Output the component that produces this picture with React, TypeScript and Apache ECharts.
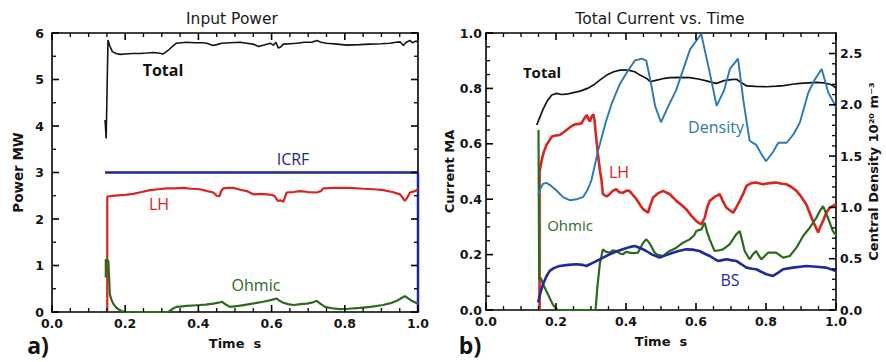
import React, { useEffect, useRef } from "react";
import * as echarts from "echarts";

// ---------- Panel a) Input Power (time s, power MW) ----------
const powerTotal: [number, number][] = [
  [0.145, 4.13], [0.148, 3.73], [0.153, 5.85], [0.158, 5.72], [0.165, 5.6], [0.175, 5.56], [0.186, 5.54],
  [0.2, 5.55], [0.22, 5.56], [0.24, 5.56], [0.26, 5.57], [0.277, 5.58], [0.29, 5.57], [0.304, 5.55],
  [0.318, 5.63], [0.33, 5.72], [0.34, 5.78], [0.368, 5.8], [0.39, 5.79], [0.41, 5.79], [0.423, 5.78],
  [0.44, 5.73], [0.45, 5.75], [0.464, 5.78], [0.486, 5.79], [0.514, 5.8], [0.532, 5.78], [0.55, 5.76],
  [0.564, 5.71], [0.58, 5.74], [0.596, 5.78], [0.605, 5.74], [0.612, 5.8], [0.618, 5.68], [0.625, 5.7],
  [0.632, 5.76], [0.65, 5.77], [0.668, 5.78], [0.69, 5.8], [0.71, 5.8], [0.723, 5.84], [0.735, 5.8],
  [0.75, 5.78], [0.78, 5.76], [0.805, 5.74], [0.84, 5.75], [0.869, 5.76], [0.9, 5.77], [0.923, 5.78],
  [0.94, 5.8], [0.951, 5.81], [0.96, 5.73], [0.968, 5.8], [0.978, 5.84], [0.985, 5.79], [0.992, 5.82],
  [1.0, 5.82],
];
const powerICRF: [number, number][] = [[0.145, 3.0], [1.0, 3.0], [1.0, 0]];
const powerLH: [number, number][] = [
  [0.151, 0], [0.151, 2.48], [0.158, 2.49], [0.18, 2.51], [0.2, 2.52], [0.222, 2.54], [0.245, 2.58],
  [0.268, 2.62], [0.29, 2.64], [0.313, 2.66], [0.335, 2.66], [0.359, 2.67], [0.38, 2.65], [0.404, 2.64],
  [0.425, 2.6], [0.441, 2.57], [0.45, 2.5], [0.458, 2.49], [0.462, 2.6], [0.468, 2.66], [0.48, 2.67],
  [0.495, 2.67], [0.515, 2.63], [0.532, 2.6], [0.55, 2.53], [0.57, 2.54], [0.587, 2.53], [0.6, 2.52],
  [0.609, 2.49], [0.614, 2.42], [0.618, 2.39], [0.625, 2.4], [0.632, 2.37], [0.638, 2.5], [0.641, 2.57],
  [0.66, 2.58], [0.678, 2.6], [0.7, 2.58], [0.723, 2.57], [0.735, 2.6], [0.741, 2.66], [0.77, 2.67],
  [0.814, 2.67], [0.85, 2.65], [0.88, 2.64], [0.905, 2.62], [0.93, 2.58], [0.951, 2.53], [0.958, 2.46],
  [0.964, 2.39], [0.97, 2.45], [0.978, 2.57], [0.992, 2.6], [1.0, 2.64],
];
const powerOhmic: [number, number][] = [
  [0.147, 0.74], [0.147, 1.13], [0.154, 1.1], [0.158, 0.38], [0.163, 0.25], [0.168, 0.17], [0.175, 0.1],
  [0.181, 0.06], [0.19, 0.02], [0.199, 0], [0.318, 0], [0.33, 0.07], [0.34, 0.11], [0.355, 0.12],
  [0.368, 0.13], [0.385, 0.14], [0.404, 0.15], [0.42, 0.16], [0.441, 0.18], [0.455, 0.2], [0.464, 0.22],
  [0.475, 0.16], [0.486, 0.11], [0.51, 0.13], [0.532, 0.16], [0.555, 0.19], [0.577, 0.22], [0.595, 0.25],
  [0.614, 0.29], [0.62, 0.25], [0.632, 0.2], [0.645, 0.17], [0.659, 0.15], [0.68, 0.17], [0.696, 0.18],
  [0.71, 0.2], [0.723, 0.24], [0.735, 0.17], [0.746, 0.11], [0.765, 0.08], [0.787, 0.06], [0.81, 0.07],
  [0.842, 0.09], [0.87, 0.11], [0.905, 0.15], [0.925, 0.19], [0.942, 0.24], [0.955, 0.3], [0.964, 0.34],
  [0.972, 0.3], [0.983, 0.24], [1.0, 0.18],
];

// ---------- Panel b) Total Current vs. Time (current MA, density 1e20 m^-3) ----------
const currentTotal: [number, number][] = [
  [0.145, 0.668], [0.155, 0.7], [0.165, 0.73], [0.175, 0.755], [0.188, 0.776], [0.202, 0.782],
  [0.215, 0.778], [0.23, 0.779], [0.25, 0.785], [0.269, 0.79], [0.29, 0.8], [0.307, 0.812],
  [0.325, 0.83], [0.345, 0.848], [0.365, 0.86], [0.383, 0.866], [0.406, 0.866], [0.425, 0.86],
  [0.44, 0.848], [0.46, 0.835], [0.469, 0.824], [0.488, 0.83], [0.505, 0.835], [0.526, 0.839],
  [0.55, 0.84], [0.583, 0.839], [0.61, 0.833], [0.63, 0.827], [0.645, 0.822], [0.659, 0.818],
  [0.68, 0.828], [0.7, 0.832], [0.716, 0.833], [0.73, 0.82], [0.745, 0.809], [0.77, 0.807],
  [0.802, 0.806], [0.83, 0.808], [0.85, 0.81], [0.875, 0.815], [0.897, 0.818], [0.92, 0.82],
  [0.945, 0.822], [0.965, 0.82], [0.983, 0.815], [0.992, 0.81], [1.0, 0.8],
];
const centralDensity: [number, number][] = [
  [0.149, 1.12], [0.155, 1.18], [0.163, 1.23], [0.172, 1.24], [0.182, 1.22], [0.2, 1.17], [0.22, 1.1],
  [0.239, 1.07], [0.26, 1.08], [0.277, 1.1], [0.29, 1.17], [0.301, 1.26], [0.32, 1.55], [0.343, 1.84],
  [0.36, 2.02], [0.382, 2.2], [0.405, 2.33], [0.425, 2.43], [0.445, 2.45], [0.458, 2.43], [0.472, 2.2],
  [0.483, 1.99], [0.5, 1.83], [0.52, 1.98], [0.543, 2.14], [0.564, 2.35], [0.583, 2.54], [0.615, 2.69],
  [0.637, 2.35], [0.659, 1.99], [0.68, 2.14], [0.697, 2.35], [0.72, 2.45], [0.735, 2.05], [0.753, 1.65],
  [0.772, 1.61], [0.785, 1.53], [0.8, 1.45], [0.82, 1.54], [0.835, 1.63], [0.859, 1.63], [0.88, 1.72],
  [0.897, 1.83], [0.921, 2.12], [0.94, 2.25], [0.959, 2.35], [0.978, 2.12], [1.0, 1.98],
];
const currentLH: [number, number][] = [
  [0.153, 0], [0.153, 0.5], [0.159, 0.54], [0.165, 0.57], [0.173, 0.596], [0.18, 0.61], [0.188, 0.626],
  [0.2, 0.63], [0.211, 0.632], [0.22, 0.64], [0.23, 0.65], [0.24, 0.66], [0.254, 0.67], [0.265, 0.672],
  [0.273, 0.674], [0.28, 0.69], [0.288, 0.704], [0.293, 0.69], [0.297, 0.68], [0.302, 0.7], [0.307, 0.706],
  [0.31, 0.686], [0.314, 0.632], [0.32, 0.56], [0.326, 0.5], [0.33, 0.47], [0.334, 0.418], [0.345, 0.41],
  [0.353, 0.418], [0.362, 0.43], [0.372, 0.436], [0.381, 0.425], [0.391, 0.423], [0.4, 0.43], [0.41, 0.43],
  [0.42, 0.415], [0.43, 0.4], [0.44, 0.38], [0.449, 0.364], [0.463, 0.351], [0.47, 0.38], [0.477, 0.405],
  [0.49, 0.42], [0.506, 0.43], [0.525, 0.418], [0.544, 0.394], [0.558, 0.38], [0.572, 0.364], [0.587, 0.34],
  [0.601, 0.321], [0.615, 0.309], [0.625, 0.333], [0.632, 0.37], [0.639, 0.394], [0.655, 0.41],
  [0.668, 0.418], [0.678, 0.39], [0.687, 0.369], [0.706, 0.351], [0.715, 0.37], [0.725, 0.394],
  [0.735, 0.42], [0.744, 0.448], [0.758, 0.458], [0.772, 0.46], [0.791, 0.454], [0.81, 0.458],
  [0.829, 0.46], [0.845, 0.456], [0.858, 0.454], [0.872, 0.445], [0.887, 0.43], [0.9, 0.41], [0.915, 0.382],
  [0.925, 0.35], [0.934, 0.321], [0.942, 0.3], [0.949, 0.28], [0.955, 0.3], [0.963, 0.321], [0.972, 0.35],
  [0.982, 0.369], [0.99, 0.375], [1.0, 0.382],
];
const currentOhmic: [number, number][] = [
  [0.15, 0.65], [0.152, 0.11], [0.157, 0.115], [0.163, 0.093], [0.17, 0.075], [0.177, 0.057], [0.185, 0.035],
  [0.191, 0.02], [0.2, 0.005], [0.206, 0], [0.313, 0], [0.318, 0.08], [0.325, 0.165], [0.334, 0.219],
  [0.343, 0.21], [0.353, 0.207], [0.362, 0.215], [0.372, 0.213], [0.381, 0.205], [0.391, 0.201], [0.4, 0.21],
  [0.41, 0.207], [0.422, 0.205], [0.434, 0.207], [0.449, 0.243], [0.458, 0.255], [0.465, 0.245],
  [0.472, 0.231], [0.48, 0.21], [0.487, 0.201], [0.506, 0.195], [0.515, 0.205], [0.525, 0.213],
  [0.544, 0.225], [0.563, 0.243], [0.582, 0.255], [0.595, 0.27], [0.601, 0.285], [0.615, 0.291],
  [0.625, 0.315], [0.632, 0.28], [0.639, 0.255], [0.653, 0.213], [0.665, 0.215], [0.677, 0.219],
  [0.696, 0.237], [0.715, 0.273], [0.725, 0.285], [0.732, 0.25], [0.739, 0.213], [0.753, 0.183],
  [0.762, 0.2], [0.772, 0.213], [0.78, 0.195], [0.787, 0.183], [0.806, 0.207], [0.829, 0.207],
  [0.849, 0.189], [0.868, 0.195], [0.887, 0.225], [0.906, 0.267], [0.925, 0.297], [0.944, 0.333],
  [0.955, 0.36], [0.963, 0.375], [0.977, 0.333], [0.991, 0.285], [1.0, 0.27],
];
const currentBS: [number, number][] = [
  [0.149, 0.027], [0.155, 0.06], [0.163, 0.093], [0.172, 0.12], [0.182, 0.141], [0.195, 0.152], [0.21, 0.159],
  [0.235, 0.163], [0.258, 0.165], [0.275, 0.163], [0.287, 0.159], [0.305, 0.17], [0.325, 0.183],
  [0.353, 0.201], [0.37, 0.21], [0.391, 0.219], [0.41, 0.227], [0.425, 0.231], [0.44, 0.224], [0.458, 0.213],
  [0.475, 0.2], [0.496, 0.189], [0.515, 0.198], [0.534, 0.207], [0.55, 0.213], [0.572, 0.219], [0.59, 0.218],
  [0.61, 0.213], [0.625, 0.203], [0.639, 0.195], [0.652, 0.185], [0.663, 0.177], [0.675, 0.18], [0.687, 0.183],
  [0.7, 0.18], [0.715, 0.177], [0.73, 0.165], [0.744, 0.153], [0.76, 0.149], [0.772, 0.147], [0.786, 0.138],
  [0.801, 0.129], [0.82, 0.123], [0.835, 0.135], [0.849, 0.147], [0.877, 0.153], [0.915, 0.159],
  [0.944, 0.156], [0.972, 0.153], [1.0, 0.141],
];

// ---------- tick values ----------
const timeMajor = [0, 0.2, 0.4, 0.6, 0.8, 1.0];
const timeMinor = [0.05, 0.1, 0.15, 0.25, 0.3, 0.35, 0.45, 0.5, 0.55, 0.65, 0.7, 0.75, 0.85, 0.9, 0.95];
const powerMajor = [0, 1, 2, 3, 4, 5, 6];
const powerMinor = [0.5, 1.5, 2.5, 3.5, 4.5, 5.5];
const currentMajor = [0, 0.2, 0.4, 0.6, 0.8, 1.0];
const currentMinor = [0.05, 0.1, 0.15, 0.25, 0.3, 0.35, 0.45, 0.5, 0.55, 0.65, 0.7, 0.75, 0.85, 0.9, 0.95];
const densityMajor = [0, 0.5, 1.0, 1.5, 2.0, 2.5];
const densityMinor = [0.1, 0.2, 0.3, 0.4, 0.6, 0.7, 0.8, 0.9, 1.1, 1.2, 1.3, 1.4, 1.6, 1.7, 1.8, 1.9, 2.1, 2.2, 2.3, 2.4, 2.6];

const C_BLACK = "#141414";
const C_ICRF = "#1d2a8a";
const C_LH = "#d8251d";
const C_OHM = "#2d6a1e";
const C_DEN = "#2a78b6";
const C_BS = "#1f2a9c";

const TICK_FONT = "DejaVu Sans";
const LABEL_FONT = "Open Sans";

// side: 0 bottom, 1 top, 2 left, 3 right
function tickItems(major: number[], minor: number[], sides: number[]) {
  const out: number[][] = [];
  sides.forEach((s) => {
    major.forEach((v) => out.push([v, 1, s]));
    minor.forEach((v) => out.push([v, 0, s]));
  });
  return out;
}

export default function App() {
  const ref = useRef<HTMLDivElement>(null);
  useEffect(() => {
    if (!ref.current) return;
    const chart = echarts.init(ref.current, undefined, { renderer: "svg" });
    const axisLine = () => ({ show: true, onZero: false, lineStyle: { color: "#000", width: 1.6 } });
    const noTick = { show: false };
    const lbl = (fmt: (v: number) => string, margin: number) => ({
      show: true, margin, color: "#141414", fontFamily: TICK_FONT, fontWeight: "bold" as const, fontSize: 12.5,
      formatter: fmt,
    });
    const f1 = (v: number) => v.toFixed(1);
    const f0 = (v: number) => v.toFixed(0);
    const nameStyle = { color: "#141414", fontFamily: TICK_FONT, fontWeight: "bold" as const, fontSize: 13 };

    const tickRender = (xr: [number, number], yr: [number, number]) => (_params: any, api: any) => {
      const v = api.value(0);
      const major = api.value(1) === 1;
      const side = api.value(2);
      const len = major ? 7 : 4;
      let p: number[];
      let q: number[];
      if (side === 0) { p = api.coord([v, yr[0]]); q = [p[0], p[1] - len]; }
      else if (side === 1) { p = api.coord([v, yr[1]]); q = [p[0], p[1] + len]; }
      else if (side === 2) { p = api.coord([xr[0], v]); q = [p[0] + len, p[1]]; }
      else { p = api.coord([xr[1], v]); q = [p[0] - len, p[1]]; }
      return {
        type: "line",
        shape: { x1: p[0], y1: p[1], x2: q[0], y2: q[1] },
        style: { stroke: "#000", lineWidth: major ? 1.6 : 1.3 },
      };
    };

    const ttl = (text: string, x: number, y: number, color: string, size: number, weight = "normal", family = LABEL_FONT) => ({
      text, left: x, top: y - size * 0.68, textAlign: "center", padding: 0,
      textStyle: { color, fontSize: size, fontWeight: weight, fontFamily: family, lineHeight: size * 1.36 },
    });

    chart.setOption({
      animation: false,
      backgroundColor: "#ffffff",
      title: [
        ttl("Input Power", 232, 19, "#1a1a1a", 15.5, "normal", "DejaVu Sans"),
        ttl("Total Current vs. Time", 660, 19, "#1a1a1a", 15.5, "normal", "DejaVu Sans"),
        ttl("Total", 163, 70, "#111", 16, "bold"),
        ttl("ICRF", 293, 159, C_ICRF, 16),
        ttl("LH", 159, 204, C_LH, 16),
        ttl("Ohmic", 256, 285, C_OHM, 16),
        ttl("Total", 542, 72, "#111", 15, "bold"),
        ttl("Density", 716, 127, C_DEN, 16),
        ttl("LH", 619, 172, C_LH, 16),
        ttl("Ohmic", 570, 225, C_OHM, 15),
        ttl("BS", 730, 280, C_BS, 16),
        ttl("a)", 38, 345, "#111", 23, "bold"),
        ttl("b)", 470, 345, "#111", 23, "bold"),
      ],
      grid: [
        { left: 52, top: 33, width: 366, height: 279 },
        { left: 486, top: 33, width: 350, height: 277 },
      ],
      xAxis: [
        {
          type: "value", gridIndex: 0, position: "bottom", min: 0, max: 1, interval: 0.2,
          axisLine: axisLine(), axisTick: noTick, splitLine: { show: false },
          axisLabel: lbl(f1, 5), name: "Time  s", nameLocation: "middle", nameGap: 25, nameTextStyle: nameStyle,
        },
        {
          type: "value", gridIndex: 0, position: "top", min: 0, max: 1, interval: 0.2,
          axisLine: axisLine(), axisTick: noTick, splitLine: { show: false }, axisLabel: { show: false },
        },
        {
          type: "value", gridIndex: 1, position: "bottom", min: 0, max: 1, interval: 0.2,
          axisLine: axisLine(), axisTick: noTick, splitLine: { show: false },
          axisLabel: lbl(f1, 5), name: "Time  s", nameLocation: "middle", nameGap: 25, nameTextStyle: nameStyle,
        },
        {
          type: "value", gridIndex: 1, position: "top", min: 0, max: 1, interval: 0.2,
          axisLine: axisLine(), axisTick: noTick, splitLine: { show: false }, axisLabel: { show: false },
        },
      ],
      yAxis: [
        {
          type: "value", gridIndex: 0, position: "left", min: 0, max: 6, interval: 1,
          axisLine: axisLine(), axisTick: noTick, splitLine: { show: false },
          axisLabel: lbl(f0, 8), name: "Power MW", nameLocation: "middle", nameGap: 27, nameTextStyle: { ...nameStyle, fontSize: 13.5 },
        },
        {
          type: "value", gridIndex: 0, position: "right", min: 0, max: 6, interval: 1,
          axisLine: axisLine(), axisTick: noTick, splitLine: { show: false }, axisLabel: { show: false },
        },
        {
          type: "value", gridIndex: 1, position: "left", min: 0, max: 1, interval: 0.2,
          axisLine: axisLine(), axisTick: noTick, splitLine: { show: false },
          axisLabel: lbl(f1, 4), name: "Current MA", nameLocation: "middle", nameGap: 27, nameTextStyle: nameStyle,
        },
        {
          type: "value", gridIndex: 1, position: "right", min: 0, max: 2.7, interval: 0.5,
          axisLine: axisLine(), axisTick: noTick, splitLine: { show: false },
          axisLabel: { ...lbl(f1, 4), showMaxLabel: false },
          name: "Central Density 10²⁰ m⁻³", nameLocation: "middle", nameGap: 31, nameTextStyle: nameStyle,
        },
      ],
      series: [
        { type: "line", name: "Total", xAxisIndex: 0, yAxisIndex: 0, data: powerTotal, showSymbol: false, lineStyle: { color: C_BLACK, width: 1.6 } },
        { type: "line", name: "ICRF", xAxisIndex: 0, yAxisIndex: 0, data: powerICRF, showSymbol: false, lineStyle: { color: C_ICRF, width: 2.5 } },
        { type: "line", name: "LH", xAxisIndex: 0, yAxisIndex: 0, data: powerLH, showSymbol: false, lineStyle: { color: C_LH, width: 2.2 } },
        { type: "line", name: "Ohmic", xAxisIndex: 0, yAxisIndex: 0, data: powerOhmic, showSymbol: false, lineStyle: { color: C_OHM, width: 2.2 } },

        { type: "line", name: "Total", xAxisIndex: 2, yAxisIndex: 2, data: currentTotal, showSymbol: false, lineStyle: { color: C_BLACK, width: 1.7 } },
        { type: "line", name: "LH", xAxisIndex: 2, yAxisIndex: 2, data: currentLH, showSymbol: false, lineStyle: { color: C_LH, width: 2.6 } },
        { type: "line", name: "Ohmic", xAxisIndex: 2, yAxisIndex: 2, data: currentOhmic, showSymbol: false, lineStyle: { color: C_OHM, width: 2.2 } },
        { type: "line", name: "BS", xAxisIndex: 2, yAxisIndex: 2, data: currentBS, showSymbol: false, lineStyle: { color: C_BS, width: 2.6 } },
        { type: "line", name: "Density", xAxisIndex: 2, yAxisIndex: 3, data: centralDensity, showSymbol: false, lineStyle: { color: C_DEN, width: 1.9 } },

        // axis ticks (inward, on all four sides), placed through the axes' own scales
        {
          type: "custom", name: "ticksA-x", xAxisIndex: 0, yAxisIndex: 0, silent: true, clip: false, z: 10,
          renderItem: tickRender([0, 1], [0, 6]), data: tickItems(timeMajor, timeMinor, [0, 1]),
        },
        {
          type: "custom", name: "ticksA-y", xAxisIndex: 0, yAxisIndex: 0, silent: true, clip: false, z: 10,
          renderItem: tickRender([0, 1], [0, 6]), data: tickItems(powerMajor, powerMinor, [2, 3]),
        },
        {
          type: "custom", name: "ticksB-x", xAxisIndex: 2, yAxisIndex: 2, silent: true, clip: false, z: 10,
          renderItem: tickRender([0, 1], [0, 1]), data: tickItems(timeMajor, timeMinor, [0, 1]),
        },
        {
          type: "custom", name: "ticksB-y", xAxisIndex: 2, yAxisIndex: 2, silent: true, clip: false, z: 10,
          renderItem: tickRender([0, 1], [0, 1]), data: tickItems(currentMajor, currentMinor, [2]),
        },
        {
          type: "custom", name: "ticksB-d", xAxisIndex: 2, yAxisIndex: 3, silent: true, clip: false, z: 10,
          renderItem: tickRender([0, 1], [0, 2.7]), data: tickItems(densityMajor, densityMinor, [3]),
        },
      ],
    });
    return () => chart.dispose();
  }, []);
  return <div ref={ref} style={{ position: "fixed", left: 0, top: 0, width: 886, height: 362, background: "#fff" }} />;
}
